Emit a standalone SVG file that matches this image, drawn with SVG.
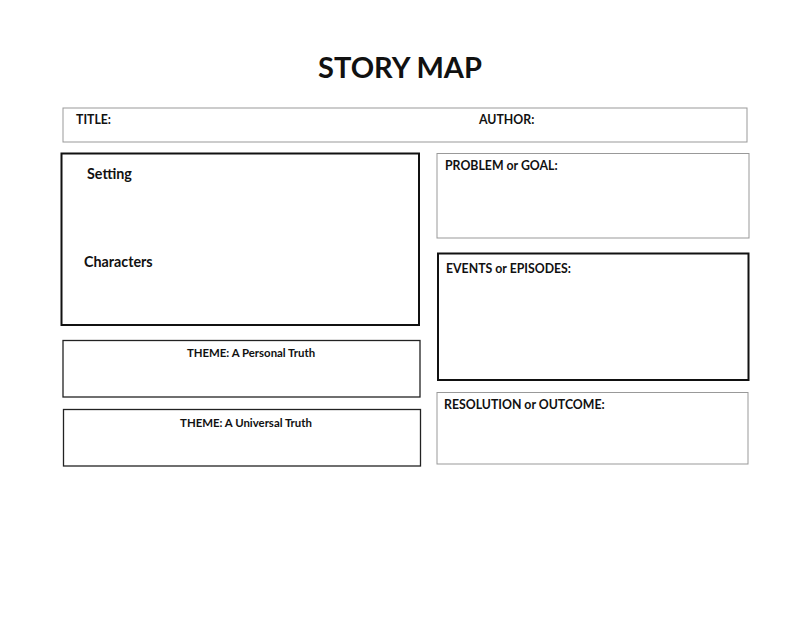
<svg xmlns="http://www.w3.org/2000/svg" width="800" height="618" viewBox="0 0 800 618">
<style>
text{font-family:Lato,"Liberation Sans",sans-serif;font-weight:bold;fill:#111}
.thin{fill:#fff;stroke:#999;stroke-width:1}
.thick{fill:#fff;stroke:#111;stroke-width:2}
.mid{fill:#fff;stroke:#222;stroke-width:1.3}
.l{font-size:12.3px}
</style>
<rect width="800" height="618" fill="#fff"/>
<text x="400" y="78" font-size="29" text-anchor="middle">STORY MAP</text>
<g id="title"><rect class="thin" x="63" y="108" width="684" height="34"/><text class="l" x="76" y="124">TITLE:</text><text class="l" x="479" y="124">AUTHOR:</text></g>
<g id="setting"><rect class="thick" x="61.5" y="153.5" width="357.5" height="171.5"/><text x="87" y="179" font-size="14.3">Setting</text><text x="84" y="267" font-size="14.3">Characters</text></g>
<g id="problem"><rect class="thin" x="437" y="153.5" width="312" height="84.5"/><text class="l" x="445" y="170">PROBLEM or GOAL:</text></g>
<g id="events"><rect class="thick" x="438" y="253.5" width="310.5" height="126.5"/><text class="l" x="446" y="273">EVENTS or EPISODES:</text></g>
<g id="theme1"><rect class="mid" x="63" y="340.5" width="357" height="56.5"/><text x="251" y="357" font-size="11.4" text-anchor="middle">THEME: A Personal Truth</text></g>
<g id="theme2"><rect class="mid" x="63.5" y="409.5" width="357" height="56.5"/><text x="246" y="427" font-size="11.4" text-anchor="middle">THEME: A Universal Truth</text></g>
<g id="resolution"><rect class="thin" x="437" y="392.5" width="311" height="71.5"/><text class="l" x="444" y="409">RESOLUTION or OUTCOME:</text></g>
<g id="connectors"/>
</svg>
